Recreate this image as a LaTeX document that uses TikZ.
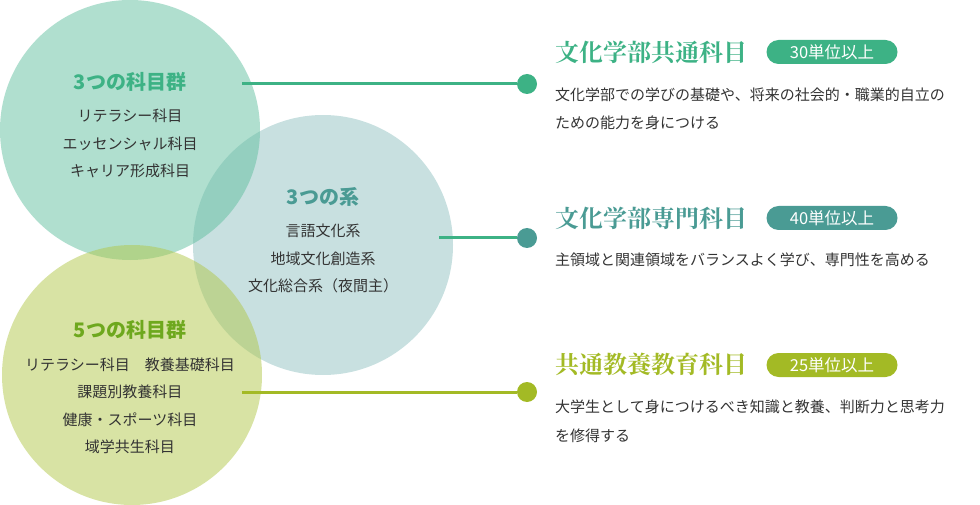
\documentclass[tikz,border=0pt]{standalone}
\usepackage{fontspec}
\setmainfont{Noto Sans CJK JP}
\newfontfamily\mincho{Noto Serif CJK JP}
\usetikzlibrary{positioning}

\definecolor{kgreen}{HTML}{3DB285}
\definecolor{kteal}{HTML}{4A9B94}
\definecolor{kolive}{HTML}{A3BA25}
\definecolor{kleaf}{HTML}{6EA81E}
\definecolor{ink}{HTML}{333333}
\definecolor{fillA}{HTML}{61BF9F}
\definecolor{fillB}{HTML}{91C1C1}
\definecolor{fillC}{HTML}{B1C749}

\begin{document}
\begin{tikzpicture}[x=1pt,y=-1pt,
  circ/.style={circle,minimum size=260,inner sep=0pt,fill opacity=0.5},
  ctitle/.style={font=\fontsize{20}{24}\selectfont\bfseries},
  citem/.style={font=\fontsize{15}{27.5}\selectfont,text=ink,align=center},
  head/.style={anchor=west,inner sep=0pt,font=\mincho\fontsize{24}{28}\selectfont\bfseries},
  badge/.style={rounded corners=12,minimum width=131,minimum height=24,inner sep=0pt,text=white,font=\fontsize{16.5}{18}\selectfont},
  desc/.style={anchor=west,inner sep=0pt,align=left,text=ink,font=\fontsize{15}{28.5}\selectfont},
  dot/.style={circle,minimum size=20,inner sep=0pt}]
  \useasboundingbox (0,0) rectangle (980,505);

  \node[circ,fill=fillB] (kei3) at (323,245) {};
  \node[circ,fill=fillA] (gun3) at (130,130) {};
  \node[circ,fill=fillC] (gun5) at (132,375) {};

  \node[ctitle,text=kgreen] (gun3title) at (130,82) {3つの科目群};
  \node[citem] (gun3items) at (130,143.5) {リテラシー科目\\エッセンシャル科目\\キャリア形成科目};
  \node[ctitle,text=kteal] (kei3title) at (323,197) {3つの系};
  \node[citem] (kei3items) at (323,258.5) {言語文化系\\地域文化創造系\\文化総合系（夜間主）};
  \node[ctitle,text=kleaf] (gun5title) at (130,330) {5つの科目群};
  \node[citem] (gun5items) at (130,406) {リテラシー科目　教養基礎科目\\課題別教養科目\\健康・スポーツ科目\\域学共生科目};

  \coordinate (gun3end) at (242,84);
  \coordinate (kei3end) at (439,238);
  \coordinate (gun5end) at (242,392);
  \node[dot,fill=kgreen] (kyotsudot) at (527,84) {};
  \node[dot,fill=kteal] (senmondot) at (527,238) {};
  \node[dot,fill=kolive] (kyoyodot) at (527,392) {};
  \draw[line width=3,kgreen] (gun3end) -- (kyotsudot);
  \draw[line width=3,kgreen] (kei3end) -- (senmondot);
  \draw[line width=3,kolive] (gun5end) -- (kyoyodot);

  \node[head,text=kgreen] (kyotsu) at (555,53) {文化学部共通科目};
  \node[badge,fill=kgreen] (kyotsubadge) at (832,52) {30単位以上};
  \node[desc] (kyotsudesc) at (555,109) {文化学部での学びの基礎や、将来の社会的・職業的自立の\\ための能力を身につける};

  \node[head,text=kteal] (senmon) at (555,218) {文化学部専門科目};
  \node[badge,fill=kteal] (senmonbadge) at (832,218) {40単位以上};
  \node[desc] (senmondesc) at (555,260) {主領域と関連領域をバランスよく学び、専門性を高める};

  \node[head,text=kolive] (kyoyo) at (555,365) {共通教養教育科目};
  \node[badge,fill=kolive] (kyoyobadge) at (832,365) {25単位以上};
  \node[desc] (kyoyodesc) at (555,421.5) {大学生として身につけるべき知識と教養、判断力と思考力\\を修得する};
\end{tikzpicture}
\end{document}
